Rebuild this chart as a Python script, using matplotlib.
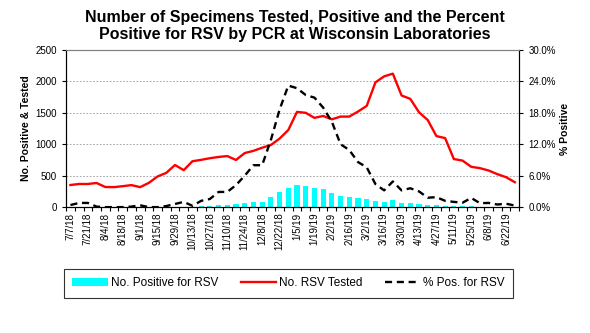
import numpy as np
import pandas as pd
import matplotlib
matplotlib.use('Agg')
import matplotlib.pyplot as plt
from matplotlib.ticker import PercentFormatter, MultipleLocator

plt.rcParams['font.family'] = ['Liberation Sans', 'DejaVu Sans']

# weekly categories 7/7/18 - 6/29/19
weeks = pd.date_range('2018-07-07', periods=52, freq='7D')
week_labels = [f'{d.month}/{d.day}/{d.year % 100}' for d in weeks]

# No. positive for RSV (bars)
positive = [3, 4, 4, 1, 0, 0, 0, 1, 2, 0, 0, 2, 5, 8, 3, 12, 18, 30, 35, 45,
            68, 82, 82, 160, 240, 302, 347, 331, 299, 285, 232, 171, 157, 141, 123, 92,
            76, 109, 63, 63, 47, 31, 31, 16, 14, 12, 12, 8, 7, 5, 5, 3]

# No. RSV tested (red line)
tested = [352, 368, 368, 384, 320, 318, 333, 350, 318, 386, 488, 545, 670, 588, 730, 752,
          778, 798, 812, 750, 860, 895, 945, 988, 1090, 1226, 1515, 1500, 1420, 1450, 1397, 1440,
          1440, 1520, 1610, 1984, 2080, 2123, 1776, 1722, 1509, 1386, 1130, 1098, 765, 740,
          641, 620, 582, 524, 476, 396]

# % positive (black dashed, right axis)
pct_pos = [0.4, 0.8, 0.8, 0.1, 0.0, 0.0, 0.0, 0.1, 0.35, 0.0, 0.0, 0.2, 0.6, 1.0, 0.25, 1.2,
           1.55, 2.9, 2.9, 4.2, 6.0, 8.0, 8.0, 12.8, 18.6, 23.2, 22.7, 21.4, 20.9, 19.0, 16.3, 12.0,
           10.9, 8.6, 7.6, 4.4, 3.2, 4.9, 3.2, 3.6, 3.0, 1.8, 1.9, 1.2, 1.0, 0.85,
           1.75, 0.75, 0.8, 0.5, 0.65, 0.3]

x = np.arange(len(week_labels))

fig = plt.figure(figsize=(5.9, 3.33), dpi=100)
ax = fig.add_axes([0.112, 0.378, 0.768, 0.472])
ax2 = ax.twinx()

bars = ax.bar(x, positive, width=0.58, color='#00FFFF', label='No. Positive for RSV', zorder=2)
line_t, = ax.plot(x, tested, color='#FF0000', lw=1.7, label='No. RSV Tested', zorder=3)
line_p, = ax2.plot(x, pct_pos, color='black', lw=1.7, ls=(0, (3, 2)), label='% Pos. for RSV')

ax.set_xlim(-0.5, len(x) - 0.5)
ax.set_ylim(0, 2500)
ax.yaxis.set_major_locator(MultipleLocator(500))
ax2.set_ylim(0, 30)
ax2.yaxis.set_major_locator(MultipleLocator(6))
ax2.yaxis.set_major_formatter(PercentFormatter(decimals=1))

ax.yaxis.grid(True, color='#999999', ls=(0, (2, 2)), lw=0.6)
ax.set_axisbelow(True)

# tick marks between categories, labels every 2nd week
ax.set_xticks(np.arange(-0.5, len(x), 1))
ax.set_xticklabels([])
ax.set_xticks(x[::2], minor=True)
ax.set_xticklabels(week_labels[::2], minor=True, rotation=90, fontsize=7)
ax.tick_params(axis='x', which='major', length=3, width=0.8, direction='out')
ax.tick_params(axis='x', which='minor', length=0, pad=4)
ax.tick_params(axis='y', labelsize=7, length=3, width=0.8)
ax2.tick_params(axis='y', labelsize=7, length=3, width=0.8)

for a in (ax, ax2):
    a.spines['top'].set_color('#808080')
    a.spines['left'].set_linewidth(0.8)
    a.spines['right'].set_linewidth(0.8)
    a.spines['bottom'].set_linewidth(0.8)

ax.set_ylabel('No. Positive & Tested', fontsize=7.5, fontweight='bold', labelpad=3)
ax2.set_ylabel('% Positive', fontsize=7.5, fontweight='bold', labelpad=3)

fig.text(0.5, 1 - 26 / 333, 'Number of Specimens Tested, Positive and the Percent\n'
         'Positive for RSV by PCR at Wisconsin Laboratories',
         ha='center', va='center', fontsize=11.5, fontweight='bold', linespacing=1.15)

leg = fig.legend(handles=[bars, line_t, line_p], loc='center', bbox_to_anchor=(0.489, 0.149),
                 ncol=3, fontsize=8.5, frameon=True, fancybox=False, edgecolor='black',
                 handlelength=3.0, handletextpad=0.25, columnspacing=1.9, borderpad=0.7)
leg.get_frame().set_linewidth(0.8)

fig.savefig('out.png', dpi=100)
